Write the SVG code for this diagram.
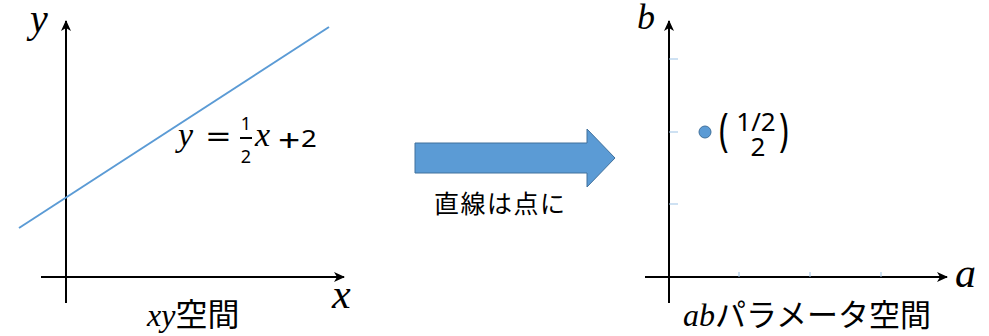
<svg xmlns="http://www.w3.org/2000/svg" width="989" height="336" viewBox="0 0 989 336">
<style>
.axis{stroke:#000;stroke-width:2;fill:none}
.blue{stroke:#5B9BD5;stroke-width:2;fill:none}
.tick{stroke:#9DC3E6;stroke-width:1;fill:none}
.mi{font-family:"Liberation Serif",serif;font-style:italic;fill:#000}
.num{font-family:"Noto Sans","Liberation Sans",sans-serif;fill:#000}
.jp{font-family:"Noto Sans CJK JP","Noto Sans",sans-serif;fill:#000}
</style>
<defs>
<marker id="ah" viewBox="0 0 12 12" refX="10" refY="6" markerWidth="12" markerHeight="12" markerUnits="userSpaceOnUse" orient="auto">
<path d="M0,1 L11,6 L0,11 L3,6 Z" fill="#000"/>
</marker>
</defs>
<g id="xy-space">
<line class="axis" x1="66" y1="303" x2="66" y2="21" marker-end="url(#ah)"/>
<line class="axis" x1="41" y1="277" x2="344" y2="277" marker-end="url(#ah)"/>
<line class="blue" x1="19" y1="228" x2="329" y2="27"/>
<text class="mi" x="30" y="32" font-size="40">y</text>
<text class="mi" x="332" y="308" font-size="42">x</text>
<text x="147" y="326"><tspan class="mi" font-size="32">xy</tspan><tspan class="jp" font-size="32">空間</tspan></text>
<g id="equation">
<text class="mi" x="178" y="146" font-size="34">y</text>
<text class="num" font-size="30" transform="translate(206,148) scale(1.45,1)">=</text>
<text class="num" x="246" y="130" font-size="18" text-anchor="middle">1</text>
<line x1="240" y1="138" x2="252" y2="138" stroke="#000" stroke-width="2"/>
<text class="num" x="246" y="163" font-size="18" text-anchor="middle">2</text>
<text class="mi" x="255" y="146" font-size="34">x</text>
<text class="num" font-size="30" transform="translate(278,151) scale(1.3,1)">+</text>
<text class="num" font-size="24" transform="translate(301,147) scale(1.15,1)">2</text>
</g>
</g>
<g id="transform-arrow">
<path d="M415,143 L587,143 L587,129 L615,158 L587,187 L587,173 L415,173 Z" fill="#5B9BD5" stroke="#41719C" stroke-width="1"/>
<text class="jp" x="434" y="213" font-size="25" letter-spacing="1.5">直線は点に</text>
</g>
<g id="ab-space">
<line class="axis" x1="669" y1="303" x2="669" y2="21" marker-end="url(#ah)"/>
<line class="axis" x1="645" y1="277" x2="947" y2="277" marker-end="url(#ah)"/>
<line class="tick" x1="669" y1="59" x2="678" y2="59"/>
<line class="tick" x1="669" y1="132" x2="678" y2="132"/>
<line class="tick" x1="669" y1="204" x2="678" y2="204"/>
<line class="tick" x1="739" y1="272" x2="739" y2="277"/>
<line class="tick" x1="810" y1="272" x2="810" y2="277"/>
<line class="tick" x1="881" y1="272" x2="881" y2="277"/>
<text class="mi" x="637" y="29" font-size="36">b</text>
<text class="mi" x="955" y="287" font-size="42">a</text>
<text x="683" y="326"><tspan class="mi" font-size="32">ab</tspan><tspan class="jp" font-size="31">パラメータ空間</tspan></text>
<circle cx="705" cy="132" r="6" fill="#5B9BD5" stroke="#41719C" stroke-width="1"/>
<g id="vector">
<text class="num" font-size="32" transform="translate(719,146) scale(1,1.45)">(</text>
<text class="num" x="756" y="131" font-size="26" text-anchor="middle">1/2</text>
<text class="num" x="758" y="156" font-size="26" text-anchor="middle">2</text>
<text class="num" font-size="32" transform="translate(779,146) scale(1,1.45)">)</text>
</g>
</g>
</svg>
